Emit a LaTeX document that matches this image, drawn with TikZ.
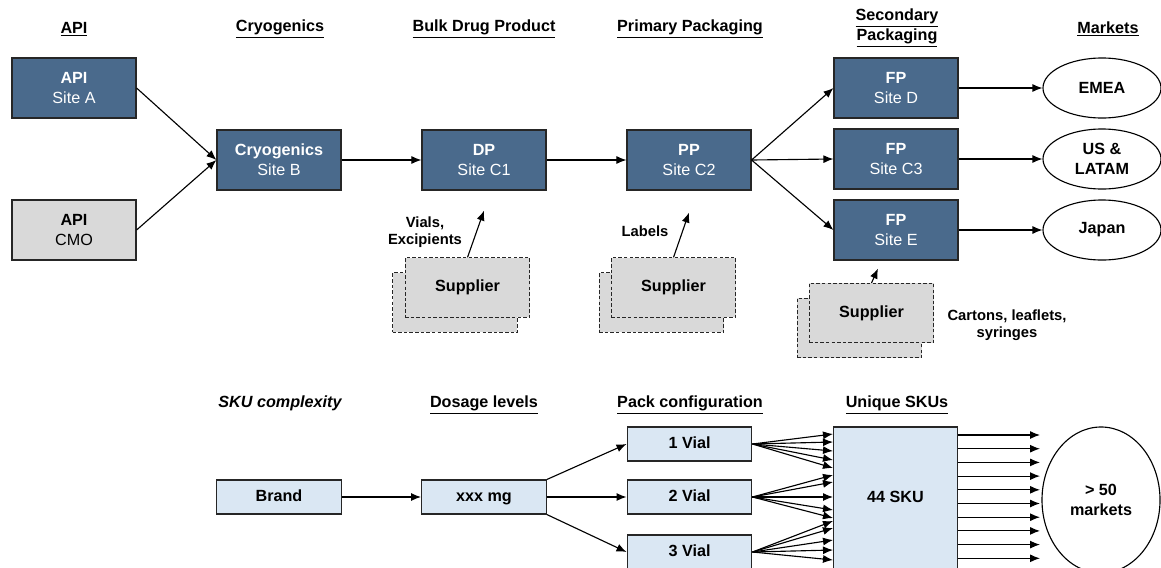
\documentclass[tikz,border=0pt]{standalone}
\usepackage{fontspec}
\setmainfont{Liberation Sans}
\usetikzlibrary{arrows.meta,shapes.geometric}

\definecolor{siteblue}{HTML}{4A6A8C}
\definecolor{skublue}{HTML}{DAE7F3}
\definecolor{boxgrey}{HTML}{D9D9D9}

\tikzset{
  >={Latex[length=2.5mm,width=2mm]},
  flow/.style={->, line width=0.8pt},
  head/.style={font=\fontsize{11.5}{14}\selectfont\bfseries, align=center},
  site/.style={draw=black!85, line width=0.8pt, fill=siteblue, text=white,
    minimum width=3.1cm, minimum height=1.5cm, align=center,
    font=\fontsize{11.5}{14}\selectfont},
  cmo/.style={site, fill=boxgrey, text=black},
  market/.style={draw, ellipse, line width=0.8pt, minimum width=2.95cm,
    minimum height=1.5cm, align=center,
    font=\fontsize{11.5}{14}\selectfont\bfseries},
  supplier/.style={draw=black!85, dashed, dash pattern=on 2.5pt off 1.5pt,
    line width=0.7pt, fill=boxgrey, minimum width=3.12cm, minimum height=1.48cm,
    font=\fontsize{11.5}{14}\selectfont\bfseries},
  note/.style={align=center, font=\fontsize{10.5}{12.5}\selectfont\bfseries},
  sku/.style={draw=black!85, line width=0.8pt, fill=skublue,
    minimum width=3.12cm, minimum height=0.85cm, text height=1.6ex, text depth=0.3ex,
    font=\fontsize{11.5}{14}\selectfont\bfseries}
}

\begin{document}
\begin{tikzpicture}[x=0.025cm, y=-0.025cm]
\useasboundingbox (0,0) rectangle (1161,567);

% Column headers
\node[head] (hapi) at (74,29) {\underline{API}};
\node[head] (hcryo) at (280,29) {\underline{Cryogenics}};
\node[head] (hbulk) at (484,29) {\underline{Bulk Drug Product}};
\node[head] (hprim) at (690,29) {\underline{Primary Packaging}};
\node[head] (hsec) at (897,28) {\underline{Secondary}\\\underline{Packaging}};
\node[head] (hmkt) at (1108,29) {\underline{Markets}};

% API sources
\node[site] (apiA) at (74,88) {\textbf{API}\\Site A};
\node[cmo] (apiC) at (74,230) {\textbf{API}\\CMO};

% Manufacturing chain
\node[site] (cryo) at (279,160) {\textbf{Cryogenics}\\Site B};
\node[site] (dp) at (484,160) {\textbf{DP}\\Site C1};
\node[site] (pp) at (689,160) {\textbf{PP}\\Site C2};
\draw[flow] (apiA.east) -- (cryo.west);
\draw[flow] (apiC.east) -- (cryo.west);
\draw[flow] (cryo) -- (dp);
\draw[flow] (dp) -- (pp);

% Secondary packaging sites
\node[site] (fpD) at (896,88) {\textbf{FP}\\Site D};
\node[site] (fpC) at (896,159) {\textbf{FP}\\Site C3};
\node[site] (fpE) at (896,230) {\textbf{FP}\\Site E};
\draw[flow] (pp.east) -- (fpD.west);
\draw[flow] (pp.east) -- (fpC.west);
\draw[flow] (pp.east) -- (fpE.west);

% Markets
\node[market] (emea) at (1102,88) {EMEA};
\node[market] (us) at (1102,159) {US \&\\LATAM};
\node[market] (japan) at (1102,230) {Japan};
\draw[flow] (fpD) -- (emea);
\draw[flow] (fpC) -- (us);
\draw[flow] (fpE) -- (japan);

% Suppliers (stacked, dashed)
\node[supplier] (sup1b) at (455,302.5) {};
\node[supplier] (sup1) at (467.5,287.5) {Supplier};
\node[note] (vials) at (425,232) {Vials,\\Excipients};
\draw[flow] (sup1.north) -- ([yshift=-0.5cm]dp.south);

\node[supplier] (sup2b) at (661.5,302.5) {};
\node[supplier] (sup2) at (673.5,287.5) {Supplier};
\node[note] (labels) at (645,231) {Labels};
\draw[flow] (sup2.north) -- ([yshift=-0.55cm]pp.south);

\node[supplier] (sup3b) at (859.5,328) {};
\node[supplier] (sup3) at (871.5,313) {Supplier};
\node[note] (cartons) at (1007,325) {Cartons, leaflets,\\syringes};
\draw[flow] (sup3.north) -- ([xshift=-0.45cm,yshift=-0.2cm]fpE.south);

% SKU complexity headers
\node[head, font=\fontsize{11.5}{14}\selectfont\bfseries\itshape] (hcplx) at (280,403) {SKU complexity};
\node[head] (hdose) at (484,405) {\underline{Dosage levels}};
\node[head] (hpack) at (690,405) {\underline{Pack configuration}};
\node[head] (hskus) at (897,405) {\underline{Unique SKUs}};

% SKU breakdown
\node[sku] (brand) at (279,497) {Brand};
\node[sku] (dose) at (484,497) {xxx mg};
\node[sku] (v1) at (689.5,444) {1 Vial};
\node[sku] (v2) at (689.5,497) {2 Vial};
\node[sku] (v3) at (689.5,552) {3 Vial};
\node[draw=black!85, line width=0.8pt, fill=skublue, minimum width=3.12cm,
  minimum height=3.7cm, font=\fontsize{11.5}{14}\selectfont\bfseries] (skus) at (895.5,501) {};
\node[font=\fontsize{11.5}{14}\selectfont\bfseries] (skutxt) at (895.5,497) {44 SKU};
\node[market, minimum width=2.95cm, minimum height=3.65cm] (mkts) at (1101,500) {> 50\\markets};

\draw[flow] (brand) -- (dose);
\draw[flow] (dose.north east) -- (v1.west);
\draw[flow] (dose) -- (v2);
\draw[flow] (dose.south east) -- (v3.west);

% fan-in of pack variants
\foreach \y [count=\i] in {434,442,451,460,468} {
  \coordinate (a\i) at (833,\y);
  \draw[flow] (v1.east) -- (a\i);
}
\foreach \y [count=\i] in {475,482,497,510,518} {
  \coordinate (b\i) at (833,\y);
  \draw[flow] (v2.east) -- (b\i);
}
\foreach \y [count=\i] in {521,528,540,550,560} {
  \coordinate (c\i) at (833,\y);
  \draw[flow] (v3.east) -- (c\i);
}

% fan-out to markets
\foreach \k in {0,...,9} {
  \coordinate (o\k) at (1040,{435+13.7*\k});
  \draw[flow] (skus.east |- o\k) -- (o\k);
}
\end{tikzpicture}
\end{document}
